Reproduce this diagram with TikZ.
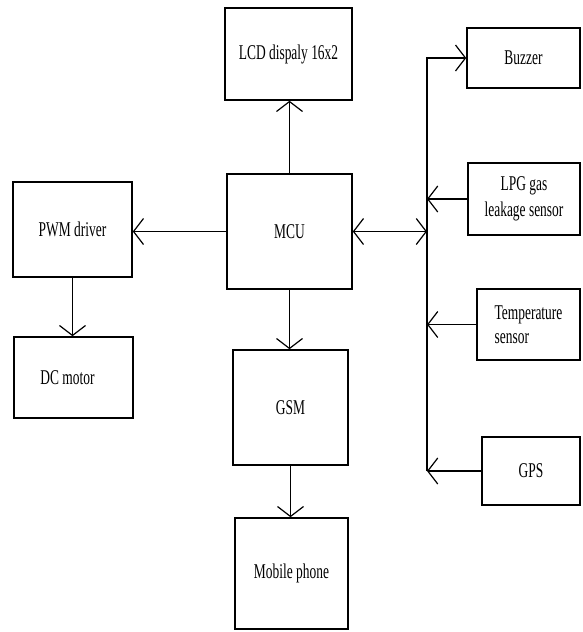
\documentclass[tikz,border=0pt]{standalone}
\usepackage{fontspec}
\setmainfont{Liberation Serif}
\usetikzlibrary{arrows.meta}
\newcommand{\nar}[1]{\scalebox{0.64}[1]{#1}}
\begin{document}
\begin{tikzpicture}[x=1pt,y=-1pt,line width=1.2pt,>={Straight Barb[length=10pt,width=26pt]},
  blk/.style={draw,line width=1.5pt,inner sep=0pt,align=center,font=\fontsize{21}{26}\selectfont}]
\useasboundingbox (0,0) rectangle (582,632);
\node[blk,minimum width=127pt,minimum height=92pt] (lcd) at (288.5,54) {\nar{LCD dispaly 16x2}};
\node[blk,minimum width=113pt,minimum height=60pt] (buzzer) at (523.5,58) {\nar{Buzzer}};
\node[blk,minimum width=119pt,minimum height=95pt] (pwm) at (72.5,229.5) {\nar{PWM driver}};
\node[blk,minimum width=125pt,minimum height=115pt] (mcu) at (289.5,231.5) {\nar{MCU}};
\node[blk,minimum width=112pt,minimum height=72pt] (lpg) at (524,199) {\nar{LPG gas}\\\nar{leakage sensor}};
\node[blk,minimum width=103pt,minimum height=71pt,align=left] (temp) at (528.5,324.5) {\nar{Temperature}\\[-2pt]\nar{sensor}};
\node[blk,minimum width=119pt,minimum height=81pt] (dc) at (73.5,377.5) {\nar{DC motor}\hspace{12pt}};
\node[blk,minimum width=115pt,minimum height=115pt] (gsm) at (290.5,407.5) {\nar{GSM}};
\node[blk,minimum width=98pt,minimum height=68pt] (gps) at (531,471) {\nar{GPS}};
\node[blk,minimum width=113pt,minimum height=111pt] (mobile) at (291.5,573.5) {\raisebox{-10pt}{\nar{Mobile phone}}};
\coordinate (bustop) at (427,58);
\coordinate (busbot) at (427,471);
\draw[->] (mcu.north) -- (mcu.north |- lcd.south);
\draw[->] (mcu.west) -- (mcu.west -| pwm.east);
\draw[->] (pwm.south) -- (pwm.south |- dc.north);
\draw[->] (mcu.south) -- (mcu.south |- gsm.north);
\draw[->] (gsm.south) -- (gsm.south |- mobile.north);
\draw[<->] (mcu.east) -- (mcu.east -| bustop);
\draw[->] (busbot) -- (bustop) -- (buzzer.west);
\draw[->] (lpg.west) -- (lpg.west -| bustop);
\draw[->] (temp.west) -- (temp.west -| bustop);
\draw[->] (gps.west) -- (busbot);
\end{tikzpicture}
\end{document}
